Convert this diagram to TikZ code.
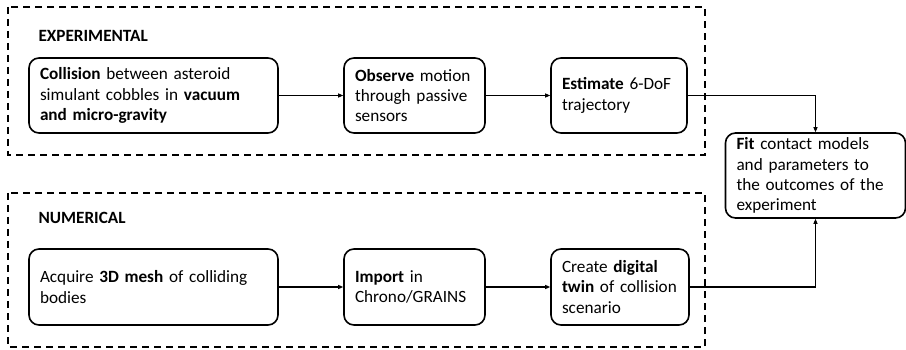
\documentclass[tikz,border=0pt]{standalone}
\usepackage{fontspec}
\setmainfont{Carlito}
\usetikzlibrary{arrows.meta}
\definecolor{ink}{RGB}{0,0,0}
\tikzset{
  frame/.style  = {draw=ink, line width=1.8pt, dash pattern=on 7pt off 5pt},
  stage/.style  = {draw=ink, line width=1.6pt, rounded corners=10pt, align=left,
                   inner xsep=11pt, inner ysep=0pt, font=\fontsize{17.2}{20.2}\selectfont},
  flow/.style   = {-{Triangle[length=5pt,width=4pt]}, draw=ink, line width=1.1pt},
  h/.style      = {font=\fontsize{17.2}{20.2}\selectfont\bfseries, anchor=west},
}

\begin{document}
\begin{tikzpicture}[x=1pt, y=-1pt]
\useasboundingbox (0,0) rectangle (906,350);

% ======================================================= experimental row
\draw[frame] (8,7) rectangle (705,155);
\node[h] (exp) at (35,36) {EXPERIMENTAL};

\node[stage, minimum width=249pt, minimum height=75pt, text width=227pt] (collide) at (153.5,95.5)
  {\textbf{Collision} between asteroid\\ simulant cobbles in \textbf{vacuum}\\ \textbf{and micro-gravity}};
\node[stage, minimum width=141pt, minimum height=75pt, text width=119pt] (observe) at (414.5,95.5)
  {\textbf{Observe} motion\\ through passive\\ sensors};
\node[stage, minimum width=136pt, minimum height=75pt, text width=114pt] (estimate) at (619,95.5)
  {\textbf{Estimate} 6-DoF\\ trajectory};

\draw[flow] (collide) -- (observe);
\draw[flow] (observe) -- (estimate);

% ======================================================= fitting
\node[stage, minimum width=180pt, minimum height=85pt, text width=158pt] (fit) at (815.5,175.5)
  {\textbf{Fit} contact models\\ and parameters to\\ the outcomes of the\\ experiment};

\draw[flow] (estimate.east) -| (fit.north);

% ======================================================= numerical row
\draw[frame] (8,193) rectangle (705,347);
\node[h] (num) at (35,218) {NUMERICAL};

\node[stage, minimum width=249pt, minimum height=76pt, text width=227pt] (mesh) at (153.5,287)
  {Acquire \textbf{3D mesh} of colliding\\ bodies};
\node[stage, minimum width=141pt, minimum height=76pt, text width=119pt] (import) at (414.5,287)
  {\textbf{Import} in\\ Chrono/GRAINS};
\node[stage, minimum width=138pt, minimum height=76pt, text width=116pt] (twin) at (620,287)
  {Create \textbf{digital}\\ \textbf{twin} of collision\\ scenario};

\draw[flow] (mesh) -- (import);
\draw[flow] (import) -- (twin);
\draw[flow] (twin.east) -| (fit.south);

\end{tikzpicture}
\end{document}
